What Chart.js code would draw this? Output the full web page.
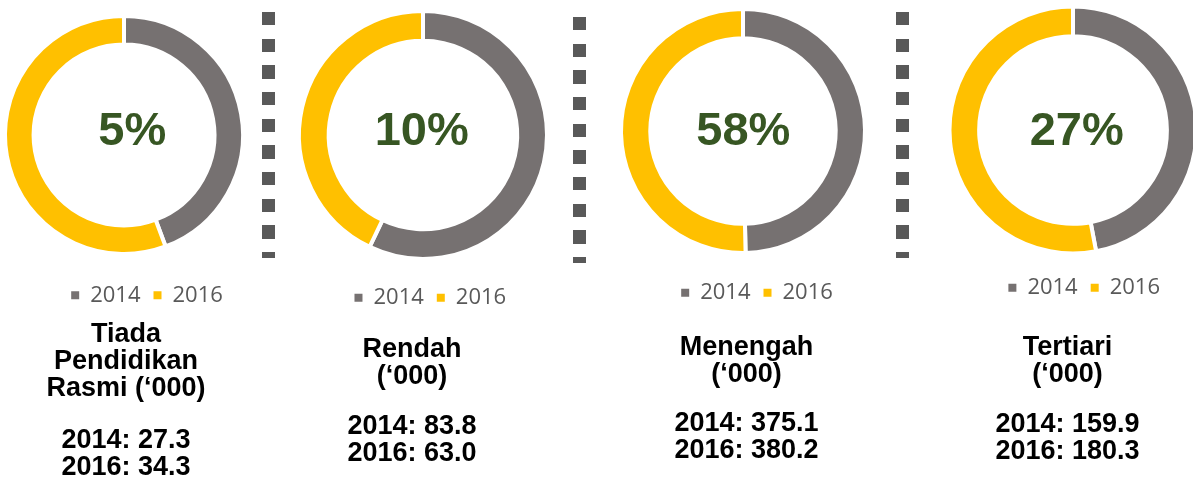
<!DOCTYPE html>
<html>
<head>
<meta charset="utf-8">
<script src="https://cdn.jsdelivr.net/npm/chart.js@4.4.1/dist/chart.umd.min.js"></script>
<style>
  html, body { margin: 0; padding: 0; background: #fff; }
  body { position: relative; width: 1193px; height: 478px; overflow: hidden; }
  canvas { position: absolute; }
  .sep {
    position: absolute; width: 13px;
    background: repeating-linear-gradient(to bottom, #595959 0, #595959 13.33px, transparent 13.33px, transparent 26.67px);
  }
</style>
</head>
<body>
<div class="sep" style="left:262px; top:12px; height:246px"></div>
<div class="sep" style="left:573px; top:17px; height:246px"></div>
<div class="sep" style="left:896px; top:12px; height:246px"></div>
<script>
// Bilangan mengikut tahap pendidikan ('000), 2014 berbanding 2016
const years = ['2014', '2016'];
const levelTitles = [
  ['Tiada', 'Pendidikan', 'Rasmi (‘000)'],
  ['Rendah', '(‘000)'],
  ['Menengah', '(‘000)'],
  ['Tertiari', '(‘000)']
];
const values2014 = [27.3, 83.8, 375.1, 159.9];
const values2016 = [34.3, 63.0, 380.2, 180.3];

// Slice colours and text styling
const sliceColours = ['#767171', '#FFC000'];
const SANS_BOLD = '"Liberation Sans", Arial, sans-serif';
const LEGEND_FAMILY = '"Open Sans", sans-serif';

// Placement of each panel on the page (px)
const panels = [
  { ringX: 124,  ringY: 135, radius: 119,   legendX: 147,    legendY: 293.3, titleX: 126,    titleY: 332.5, valuesY: 438.5, pctX: 132.3,  pctY: 145 },
  { ringX: 423,  ringY: 135, radius: 124,   legendX: 430.3,  legendY: 295.8, titleX: 412,    titleY: 347,   valuesY: 424,   pctX: 421.7,  pctY: 144.5 },
  { ringX: 743,  ringY: 131, radius: 122,   legendX: 757,    legendY: 290.8, titleX: 746.5,  titleY: 345,   valuesY: 421.5, pctX: 743.3,  pctY: 145 },
  { ringX: 1073, ringY: 130, radius: 123.5, legendX: 1084.2, legendY: 285.8, titleX: 1067.5, titleY: 345.5, valuesY: 422,   pctX: 1076.7, pctY: 145 }
];

const OFF = 20, CW = 300, CH = 520;
const LEG_FONT = 22, LEG_PAD = 13, LINE = 27;
const LEG_MID_FIX = 2, TEXT_MID_FIX = 2.2;

// Share of each level in the 2016 total
const total2016 = values2016.reduce((a, b) => a + b, 0);
const shares = values2016.map(v => Math.round(v / total2016 * 100) + '%');

// Big green share figure inside the ring
const centreLabel = {
  id: 'centreLabel',
  afterDatasetsDraw(chart, args, opts) {
    const ctx = chart.ctx;
    ctx.save();
    ctx.font = 'bold 47px ' + SANS_BOLD;
    ctx.fillStyle = '#375623';
    ctx.textAlign = 'center';
    ctx.textBaseline = 'alphabetic';
    ctx.fillText(opts.text, opts.x, opts.y);
    ctx.restore();
  }
};

// Slide the bottom boxes sideways so legend and captions sit where wanted
const boxNudge = {
  id: 'boxNudge',
  afterLayout(chart, args, opts) {
    chart.boxes.forEach(box => {
      if (box.position !== 'bottom') return;
      const dx = box === chart.legend ? opts.legendDx : opts.titleDx;
      box.left += dx;
      box.right += dx;
    });
  }
};

function buildPanel(i) {
  const p = panels[i];
  const canvas = document.createElement('canvas');
  canvas.width = CW; canvas.height = CH;
  canvas.style.left = (p.ringX - CW / 2) + 'px';
  canvas.style.top = (-OFF) + 'px';
  canvas.style.width = CW + 'px'; canvas.style.height = CH + 'px';
  document.body.appendChild(canvas);

  const titles = levelTitles[i];
  const valueLines = [
    years[0] + ': ' + values2014[i].toFixed(1),
    years[1] + ': ' + values2016[i].toFixed(1)
  ];

  const cy = p.ringY + OFF;
  const legMid = p.legendY + OFF + LEG_MID_FIX;
  const areaBottom = legMid - LEG_PAD - LEG_FONT / 2;
  const padTop = 2 * cy - areaBottom;
  const legH = LEG_FONT + LEG_PAD + 10;
  const legBottom = areaBottom + legH;
  const titlePad = p.titleY + OFF + TEXT_MID_FIX - LINE / 2 - legBottom;
  const titleH = titlePad + titles.length * LINE;
  const subTop = legBottom + titleH;
  const subPad = p.valuesY + OFF + TEXT_MID_FIX - LINE / 2 - subTop;
  const subH = subPad + valueLines.length * LINE;
  const padBottom = CH - subTop - subH;

  new Chart(canvas, {
    type: 'doughnut',
    data: {
      labels: years,
      datasets: [{
        data: [values2014[i], values2016[i]],
        backgroundColor: sliceColours,
        borderColor: '#ffffff',
        borderWidth: 4,
        hoverOffset: 0
      }]
    },
    options: {
      responsive: false,
      devicePixelRatio: 1,
      animation: false,
      events: [],
      radius: p.radius,
      cutout: '76%',
      layout: { padding: { top: padTop, bottom: padBottom, left: 0, right: 0 } },
      plugins: {
        tooltip: { enabled: false },
        legend: {
          display: true,
          position: 'bottom',
          align: 'center',
          labels: {
            boxWidth: 8,
            boxHeight: 8,
            padding: LEG_PAD,
            color: '#595959',
            font: { family: LEGEND_FAMILY, size: LEG_FONT },
            generateLabels: (chart) =>
              Chart.overrides.doughnut.plugins.legend.labels.generateLabels(chart)
                .map(item => Object.assign(item, { lineWidth: 0 }))
          }
        },
        title: {
          display: true,
          position: 'bottom',
          weight: 1100,
          text: titles,
          color: '#000000',
          font: { family: SANS_BOLD, size: 27, weight: 'bold', lineHeight: 1 },
          padding: { top: titlePad, bottom: 0 }
        },
        subtitle: {
          display: true,
          position: 'bottom',
          weight: 1500,
          text: valueLines,
          color: '#000000',
          font: { family: SANS_BOLD, size: 27, weight: 'bold', lineHeight: 1 },
          padding: { top: subPad, bottom: 0 }
        },
        centreLabel: { text: shares[i], x: p.pctX - p.ringX + CW / 2, y: p.pctY + OFF },
        boxNudge: { legendDx: p.legendX - p.ringX, titleDx: p.titleX - p.ringX }
      }
    },
    plugins: [centreLabel, boxNudge]
  });
}

function buildAll() { for (let i = 0; i < panels.length; i++) buildPanel(i); }

if (document.fonts && document.fonts.load) {
  Promise.all([
    document.fonts.load('22px "Open Sans"'),
    document.fonts.load('bold 27px "Liberation Sans"')
  ]).then(buildAll, buildAll);
} else {
  buildAll();
}
</script>
</body>
</html>
